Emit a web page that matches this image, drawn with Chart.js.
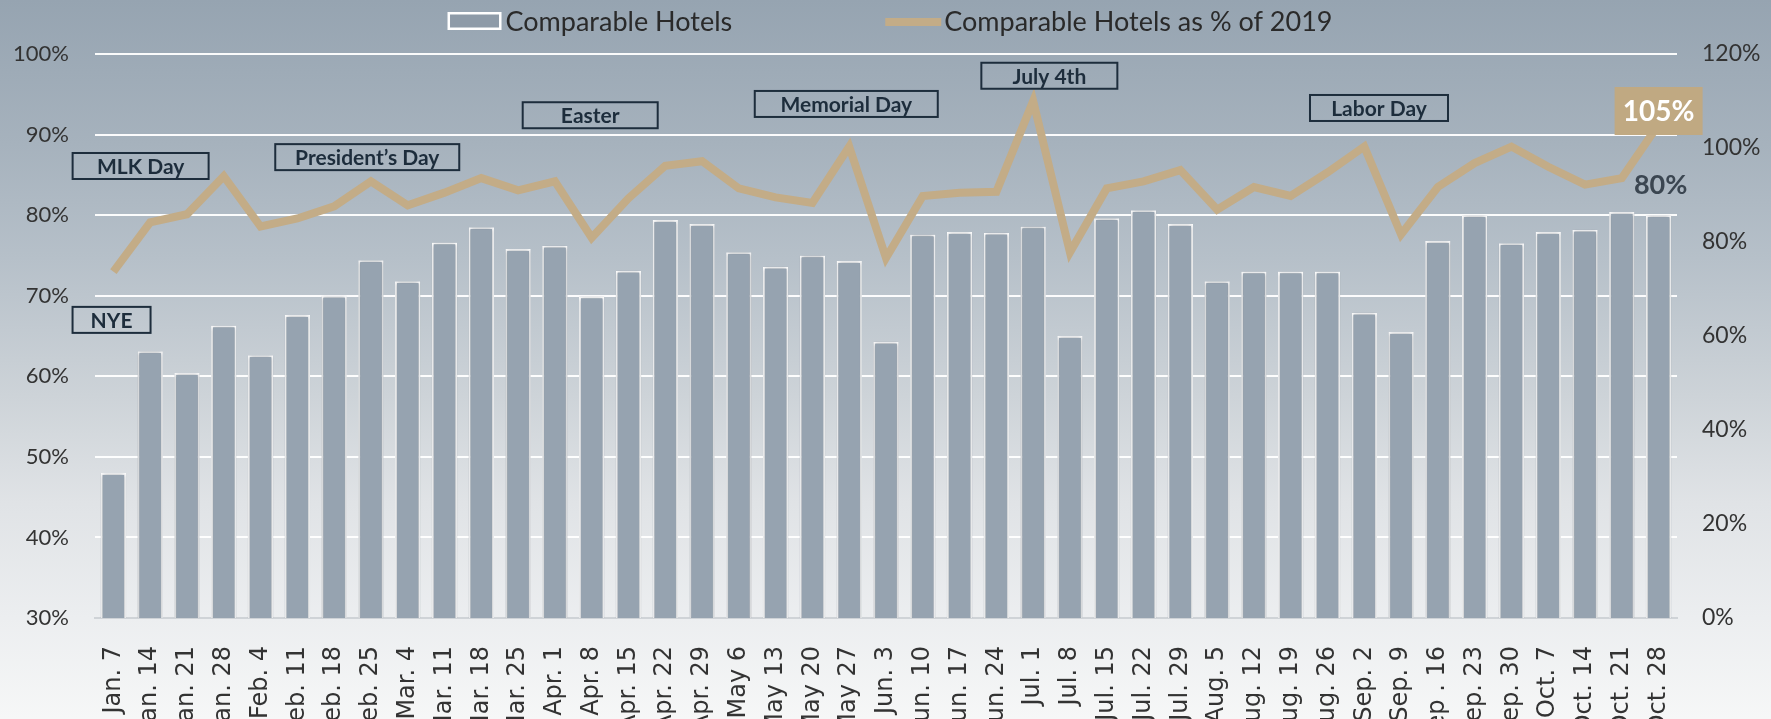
<!DOCTYPE html>
<html>
<head>
<meta charset="utf-8">
<script src="https://cdn.jsdelivr.net/npm/chart.js@4.4.1/dist/chart.umd.min.js"></script>
<style>
  html, body { margin: 0; padding: 0; overflow: hidden; }
  body {
    width: 1771px; height: 719px;
    background: linear-gradient(to bottom, #96a4b1 0%, #a6b2bd 20%, #b6c0c9 36%, #cdd3d8 55%, #e0e3e6 70%, #eceef0 86%, #f6f7f7 100%);
  }
  canvas { display: block; }
</style>
</head>
<body>
<canvas id="mycanvas" width="1771" height="719"></canvas>
<script>
// weeks of the year
var weeks = ['Jan. 7', 'Jan. 14', 'Jan. 21', 'Jan. 28', 'Feb. 4', 'Feb. 11', 'Feb. 18', 'Feb. 25',
	'Mar. 4', 'Mar. 11', 'Mar. 18', 'Mar. 25', 'Apr. 1', 'Apr. 8', 'Apr. 15', 'Apr. 22', 'Apr. 29',
	'May 6', 'May 13', 'May 20', 'May 27', 'Jun. 3', 'Jun. 10', 'Jun. 17', 'Jun. 24',
	'Jul. 1', 'Jul. 8', 'Jul. 15', 'Jul. 22', 'Jul. 29', 'Aug. 5', 'Aug. 12', 'Aug. 19', 'Aug. 26',
	'Sep. 2', 'Sep. 9', 'Sep . 16', 'Sep. 23', 'Sep. 30', 'Oct. 7', 'Oct. 14', 'Oct. 21', 'Oct. 28'];

// occupancy, comparable hotels (left axis, %)
var comparableHotels = [48.0, 63.1, 60.4, 66.3, 62.6, 67.6, 70.0, 74.4,
	71.8, 76.6, 78.5, 75.8, 76.2, 69.9, 73.1, 79.4, 78.9,
	75.4, 73.6, 75.0, 74.3, 64.3, 77.6, 77.9, 77.8,
	78.6, 65.0, 79.6, 80.6, 78.9, 71.8, 73.0, 73.0, 73.0,
	67.9, 65.5, 76.8, 80.0, 76.5, 77.9, 78.2, 80.4, 80.0];

// comparable hotels as % of 2019 (right axis, %)
var pctOf2019 = [73.7, 84.2, 85.9, 94.0, 83.3, 85.0, 87.6, 92.9,
	87.8, 90.5, 93.6, 91.0, 92.9, 80.9, 89.3, 96.2, 97.2,
	91.4, 89.5, 88.3, 100.3, 76.6, 89.8, 90.5, 90.7,
	110.0, 77.8, 91.4, 92.9, 95.3, 86.9, 91.7, 89.8, 94.8,
	100.3, 81.6, 91.7, 96.8, 100.3, 96.0, 92.2, 93.6, 105.0];

var leftTicks = [30, 40, 50, 60, 70, 80, 90, 100];
var rightTicks = [0, 20, 40, 60, 80, 100, 120];

var holidayNames = ['NYE', 'MLK Day', 'President\u2019s Day', 'Easter', 'Memorial Day', 'July 4th', 'Labor Day'];

// where each holiday box sits: category position, left-axis value, box width
var holidayBoxes = [
	{ at: -0.05, level: 67.0, w: 78 },
	{ at: 0.74, level: 86.1, w: 136 },
	{ at: 6.9, level: 87.2, w: 184 },
	{ at: 12.96, level: 92.4, w: 135 },
	{ at: 19.92, level: 93.8, w: 183 },
	{ at: 25.44, level: 97.3, w: 136 },
	{ at: 34.4, level: 93.3, w: 138 }
];

var barColor = '#96a3b0';
var lineColor = '#c3ac87';
var textColor = '#333333';
var navy = '#1d2d3c';

var overlay = {
	id: 'overlay',
	beforeDatasetDraw: function(chart, args) {
		if (args.index === 0) {
			chart.ctx.save();
			chart.ctx.shadowColor = 'rgba(40,52,64,0.45)';
			chart.ctx.shadowBlur = 4;
		}
	},
	afterDatasetDraw: function(chart, args) {
		if (args.index === 0) chart.ctx.restore();
	},
	afterDatasetsDraw: function(chart) {
		var ctx = chart.ctx;
		var xs = chart.scales.x, ys = chart.scales.y;
		ctx.save();

		// holiday boxes
		ctx.font = 'bold 21px Lato';
		ctx.textAlign = 'center';
		ctx.textBaseline = 'middle';
		ctx.strokeStyle = navy;
		ctx.fillStyle = navy;
		ctx.lineWidth = 2;
		for (var i = 0; i < holidayNames.length; i++) {
			var b = holidayBoxes[i];
			var cx = xs.getPixelForValue(b.at);
			var cy = ys.getPixelForValue(b.level);
			ctx.strokeRect(cx - b.w / 2, cy - 13, b.w, 26);
			ctx.fillText(holidayNames[i], cx, cy + 1);
		}

		// last value labels
		var last = weeks.length - 1;
		var pt = chart.getDatasetMeta(1).data[last];
		ctx.fillStyle = '#c0a982';
		ctx.fillRect(pt.x - 44, pt.y - 37.5, 88, 48);
		ctx.fillStyle = '#ffffff';
		ctx.font = 'bold 28px Lato';
		ctx.fillText(Math.round(pctOf2019[last]) + '%', pt.x, pt.y - 12.5);

		var bar = chart.getDatasetMeta(0).data[last];
		ctx.fillStyle = '#3b4651';
		ctx.font = 'bold 27px Lato';
		ctx.fillText(Math.round(comparableHotels[last]) + '%', bar.x + 2, bar.y - 30);

		// legend
		ctx.font = '27px Lato';
		ctx.textAlign = 'left';
		ctx.textBaseline = 'alphabetic';
		var t1 = 'Comparable Hotels', t2 = 'Comparable Hotels as % of 2019';
		var w1 = ctx.measureText(t1).width, w2 = ctx.measureText(t2).width;
		var total = 52 + 5 + w1 + 153 + 56 + 3 + w2;
		var x0 = chart.width / 2 + 5 - total / 2;
		ctx.fillStyle = '#ffffff';
		ctx.fillRect(x0 - 1, 12, 54, 18);
		ctx.fillStyle = '#8e9ba8';
		ctx.fillRect(x0 + 1.5, 14.5, 49, 13);
		ctx.fillStyle = '#2a2a2a';
		ctx.fillText(t1, x0 + 57, 31);
		var x1 = x0 + 57 + w1 + 153;
		ctx.strokeStyle = lineColor;
		ctx.lineWidth = 8;
		ctx.beginPath();
		ctx.moveTo(x1, 22);
		ctx.lineTo(x1 + 56, 22);
		ctx.stroke();
		ctx.fillText(t2, x1 + 59, 31);

		ctx.restore();
	}
};

var chartdata = {
	labels: weeks,
	datasets: [
		{
			type: 'bar',
			label: 'Comparable Hotels',
			data: comparableHotels,
			backgroundColor: barColor,
			borderColor: '#ffffff',
			borderWidth: 2,
			barPercentage: 0.69,
			categoryPercentage: 1,
			yAxisID: 'y',
			order: 1
		},
		{
			type: 'line',
			label: 'Comparable Hotels as % of 2019',
			data: pctOf2019,
			borderColor: lineColor,
			backgroundColor: lineColor,
			borderWidth: 8,
			pointRadius: 0,
			tension: 0,
			yAxisID: 'y1',
			order: 0
		}
	]
};

var ctx = document.getElementById('mycanvas');

var comboChart = new Chart(ctx, {
	type: 'bar',
	data: chartdata,
	plugins: [overlay],
	options: {
		responsive: false,
		animation: false,
		layout: { padding: { top: 54, left: 0, right: 0, bottom: 0 } },
		plugins: {
			legend: { display: false },
			tooltip: { enabled: false }
		},
		scales: {
			x: {
				grid: { display: false },
				border: { display: true, color: '#cfd3d7', width: 2 },
				ticks: {
					autoSkip: false,
					minRotation: 90,
					maxRotation: 90,
					padding: 20,
					color: textColor,
					font: { family: "'DejaVu Sans', sans-serif", size: 24 }
				},
				afterFit: function(scale) { scale.height = 101; }
			},
			y: {
				position: 'left',
				min: leftTicks[0],
				max: leftTicks[leftTicks.length - 1],
				afterBuildTicks: function(scale) {
					scale.ticks = leftTicks.map(function(v) { return { value: v }; });
				},
				grid: {
					drawTicks: false,
					lineWidth: 2,
					color: function(c) { return c.tick && c.tick.value === leftTicks[0] ? 'rgba(0,0,0,0)' : 'rgba(255,255,255,0.95)'; }
				},
				border: { display: false },
				ticks: {
					padding: 26,
					color: textColor,
					font: { family: 'Lato', size: 22 },
					callback: function(v) { return v + '%'; }
				},
				afterFit: function(scale) { scale.width = 95; }
			},
			y1: {
				position: 'right',
				min: rightTicks[0],
				max: rightTicks[rightTicks.length - 1],
				afterBuildTicks: function(scale) {
					scale.ticks = rightTicks.map(function(v) { return { value: v }; });
				},
				grid: { display: false, drawTicks: false },
				border: { display: false },
				ticks: {
					padding: 25,
					color: textColor,
					font: { family: 'Lato', size: 23 },
					callback: function(v) { return v + '%'; }
				},
				afterFit: function(scale) { scale.width = 94; }
			}
		}
	}
});
</script>
</body>
</html>
